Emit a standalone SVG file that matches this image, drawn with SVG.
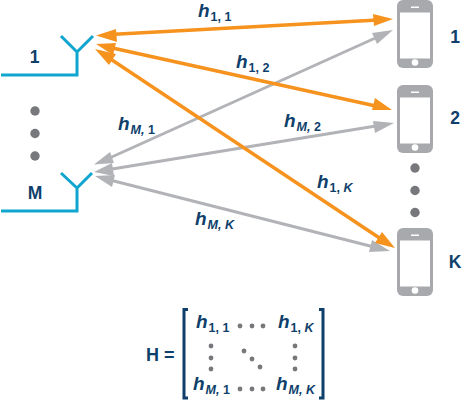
<svg xmlns="http://www.w3.org/2000/svg" width="463" height="400" viewBox="0 0 463 400">
<style>
.ant{fill:none;stroke:#0fa5cf;stroke-width:3}
.o{stroke:#f6921e;stroke-width:3.400;fill:none}
.g{stroke:#b1b3b6;stroke-width:3;fill:none}
.of{fill:#f6921e}.gf{fill:#b1b3b6}
.dot{fill:#77787b}
.body{fill:#a7a9ac}.scr{fill:#fff}
text{font-family:"Liberation Sans",Arial,sans-serif;font-weight:700;fill:#0f3f6b}
.n{font-size:17.500px}
.h{font-size:19px;font-style:italic}
.s{font-size:12.500px;font-style:normal}
.si{font-size:12.500px}
</style>
<defs>
<g id="phone">
<rect class="body" x="397" y="0" width="36" height="68" rx="6"/>
<rect class="scr" x="400" y="12.500" width="30" height="46"/>
<rect class="scr" x="411" y="6.500" width="8" height="1.500"/>
<circle class="scr" cx="415" cy="62.500" r="3.300"/>
</g>
</defs>
<g id="connectors">
<g id="gray">
<line class="g" x1="104" y1="160.500" x2="382" y2="35"/><path class="gf" d="M94 164.500L110 152L114 163Z"/><path class="gf" d="M393 30L377 44L372 33Z"/>
<line class="g" x1="106" y1="170" x2="382" y2="125"/><path class="gf" d="M94 172L112 163L114 176Z"/><path class="gf" d="M394 123L375 133L373 121Z"/>
<line class="g" x1="106" y1="179" x2="378" y2="248"/><path class="gf" d="M95 176L115 175L112 187Z"/><path class="gf" d="M390 251L369 252L372 240Z"/>
</g>
<g id="orange">
<line class="o" x1="110" y1="34.500" x2="378" y2="20"/><path class="of" d="M96 35.500L116 29L117 42Z"/><path class="of" d="M393 19L374 26L373 14Z"/>
<line class="o" x1="108" y1="47" x2="378" y2="106.500"/><path class="of" d="M96 44L116 43L113 55Z"/><path class="of" d="M392 110L372 110L375 98Z"/>
<line class="o" x1="106" y1="56" x2="384" y2="241"/><path class="of" d="M95 49L116 54L109 65Z"/><path class="of" d="M395 248L375 243L382 232Z"/>
</g>
</g>
<g id="antenna-1"><path class="ant" d="M1 75H77V52M61 36L77 52L93 36"/><text class="n" x="34.500" y="62.500" text-anchor="middle">1</text></g>
<g id="antenna-M"><path class="ant" d="M1 211H77V188M61 173L77 188L92 173"/><text class="n" x="35" y="199" text-anchor="middle">M</text></g>
<g id="dots-left"><circle class="dot" cx="35" cy="111" r="4.700"/><circle class="dot" cx="35" cy="133.500" r="4.700"/><circle class="dot" cx="35" cy="156" r="4.700"/></g>
<g id="phone-1"><use href="#phone"/><text class="n" x="455" y="43" text-anchor="middle">1</text></g>
<g id="phone-2"><use href="#phone" y="85"/><text class="n" x="455" y="124" text-anchor="middle">2</text></g>
<g id="phone-K"><use href="#phone" y="228"/><text class="n" x="455" y="268" text-anchor="middle">K</text></g>
<g id="dots-right"><circle class="dot" cx="415" cy="168" r="4.700"/><circle class="dot" cx="415" cy="190.500" r="4.700"/><circle class="dot" cx="415" cy="212.500" r="4.700"/></g>
<g id="labels">
<text class="h" x="198" y="17">h<tspan class="s" dy="4" dx="1">1, 1</tspan></text>
<text class="h" x="236" y="68">h<tspan class="s" dy="4" dx="1">1, 2</tspan></text>
<text class="h" x="317" y="188">h<tspan class="s" dy="4" dx="1">1, </tspan><tspan class="si">K</tspan></text>
<text class="h" x="118" y="130">h<tspan class="si" dy="4" dx="1">M, </tspan><tspan class="s">1</tspan></text>
<text class="h" x="284" y="127">h<tspan class="si" dy="4" dx="1">M, </tspan><tspan class="s">2</tspan></text>
<text class="h" x="195" y="225">h<tspan class="si" dy="4" dx="1">M, K</tspan></text>
</g>
<g id="matrix">
<text x="146" y="361" font-size="18">H =</text>
<path fill="none" stroke="#0f3f6b" stroke-width="3" d="M188 309.500H184V398H188M319 309.500H323V398H319"/>
<text class="h" x="196" y="328">h<tspan class="s" dy="4" dx="1">1, 1</tspan></text>
<text class="h" x="278" y="328">h<tspan class="s" dy="4" dx="1">1, </tspan><tspan class="si">K</tspan></text>
<text class="h" x="193" y="390">h<tspan class="si" dy="4" dx="1">M, </tspan><tspan class="s">1</tspan></text>
<text class="h" x="276" y="390">h<tspan class="si" dy="4" dx="1">M, K</tspan></text>
<g class="dot"><circle cx="240" cy="326" r="2.400"/><circle cx="252" cy="326" r="2.400"/><circle cx="263" cy="326" r="2.400"/>
<circle cx="240" cy="389" r="2.400"/><circle cx="252" cy="389" r="2.400"/><circle cx="263" cy="389" r="2.400"/>
<circle cx="211" cy="346" r="2.400"/><circle cx="211" cy="358" r="2.400"/><circle cx="211" cy="369" r="2.400"/>
<circle cx="295" cy="346" r="2.400"/><circle cx="295" cy="358" r="2.400"/><circle cx="295" cy="369" r="2.400"/>
<circle cx="244" cy="351" r="2.400"/><circle cx="252" cy="359" r="2.400"/><circle cx="260" cy="367" r="2.400"/></g>
</g>
</svg>
